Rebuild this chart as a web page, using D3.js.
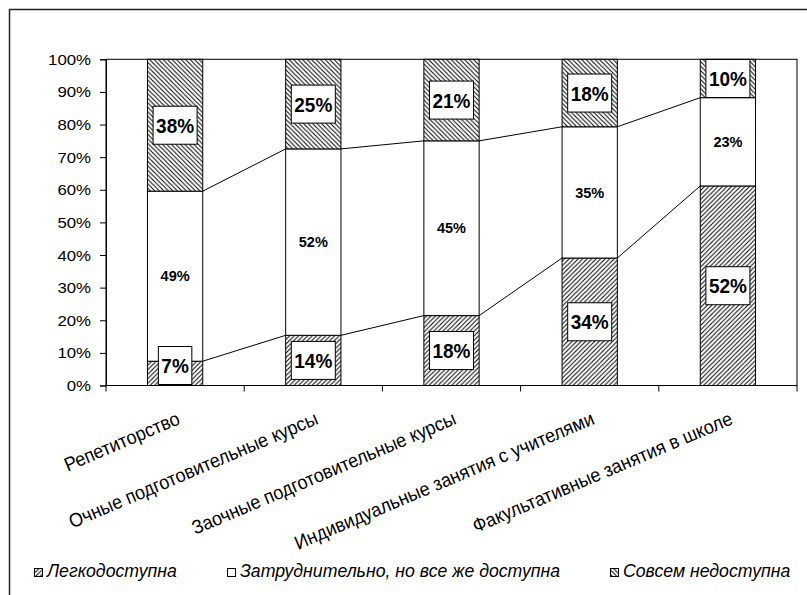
<!DOCTYPE html>
<html><head><meta charset="utf-8">
<script src="https://cdn.jsdelivr.net/npm/d3@7"></script>
<style>
html,body{margin:0;padding:0;background:#fff;}
svg{display:block;font-family:"Liberation Sans",Arial,sans-serif;}
</style></head>
<body>
<svg id="chart" width="807" height="595"></svg>
<script>
const categories = ["Репетиторство","Очные подготовительные курсы","Заочные подготовительные курсы","Индивидуальные занятия с учителями","Факультативные занятия в школе"];
const easyValues = [7,14,18,34,52];
const hardValues = [49,52,45,35,23];
const noneValues = [38,25,21,18,10];
const seriesNames = ["Легкодоступна","Затруднительно, но все же доступна","Совсем недоступна"];
const yTickValues = [0,0.1,0.2,0.3,0.4,0.5,0.6,0.7,0.8,0.9,1];

const svg = d3.select("#chart");
const W = 807, H = 595;
const plot = {left:106, right:797, top:59.3, bottom:385.5};

const rows = categories.map((c,i)=>({cat:c, s0:easyValues[i], s1:hardValues[i], s2:noneValues[i]}));
const keys = ["s0","s1","s2"];
const stacked = d3.stack().keys(keys).offset(d3.stackOffsetExpand)(rows);

const x = d3.scaleBand().domain(categories).range([plot.left, plot.right]).paddingInner(0.6).paddingOuter(0.3);
const y = d3.scaleLinear().domain([0,1]).range([plot.bottom, plot.top]);

// patterns
const P = 4.5;
const defs = svg.append("defs");
const pUp = defs.append("pattern").attr("id","pUp").attr("patternUnits","userSpaceOnUse").attr("width",P).attr("height",P);
pUp.append("rect").attr("width",P).attr("height",P).attr("fill","#fff");
pUp.append("path").attr("d",`M-1,1 L1,-1 M0,${P} L${P},0 M${P-1},${P+1} L${P+1},${P-1}`).attr("stroke","#000").attr("stroke-width",1);
const pDown = defs.append("pattern").attr("id","pDown").attr("patternUnits","userSpaceOnUse").attr("width",P).attr("height",P);
pDown.append("rect").attr("width",P).attr("height",P).attr("fill","#fff");
pDown.append("path").attr("d",`M-1,${P-1} L1,${P+1} M0,0 L${P},${P} M${P-1},-1 L${P+1},1`).attr("stroke","#000").attr("stroke-width",1);
const fills = ["url(#pUp)","#fff","url(#pDown)"];

// outer chart border
svg.append("rect").attr("x",9.5).attr("y",9.5).attr("width",W+20).attr("height",H+20)
  .attr("fill","none").attr("stroke","#222").attr("stroke-width",1.5);

// plot area border
svg.append("rect").attr("x",plot.left).attr("y",plot.top).attr("width",plot.right-plot.left).attr("height",plot.bottom-plot.top)
  .attr("fill","#fff").attr("stroke","#000").attr("stroke-width",1);

// bars
const bw = x.bandwidth();
stacked.forEach((layer,si)=>{
  svg.append("g").selectAll("rect").data(layer).join("rect")
    .attr("x",d=>x(d.data.cat)).attr("width",bw)
    .attr("y",d=>y(d[1])).attr("height",d=>y(d[0])-y(d[1]))
    .attr("fill",fills[si]).attr("stroke","#000").attr("stroke-width",1);
});

// series lines
[0,1].forEach(si=>{
  const layer = stacked[si];
  for(let i=0;i<layer.length-1;i++){
    svg.append("line")
      .attr("x1",x(layer[i].data.cat)+bw).attr("y1",y(layer[i][1]))
      .attr("x2",x(layer[i+1].data.cat)).attr("y2",y(layer[i+1][1]))
      .attr("stroke","#000").attr("stroke-width",1);
  }
});

// y axis
const yAxis = svg.append("g").attr("transform",`translate(${plot.left},0)`)
  .call(d3.axisLeft(y).tickValues(yTickValues).tickSize(6).tickFormat(d3.format(".0%")));
yAxis.select(".domain").attr("stroke","#000");
yAxis.selectAll(".tick line").attr("stroke","#000");
yAxis.selectAll(".tick text").attr("font-family","Liberation Sans, Arial, sans-serif").attr("font-size",14)
  .attr("fill","#000").attr("x",-15/1.2).attr("dy","0.36em").attr("transform","scale(1.2,1)");

// x axis baseline + ticks at category boundaries
svg.append("line").attr("x1",plot.left).attr("x2",plot.right).attr("y1",plot.bottom).attr("y2",plot.bottom).attr("stroke","#000");
const gap = x.step()-bw;
const bounds = categories.map(c=>x(c)-gap/2).concat([x(categories[categories.length-1])+bw+gap/2]);
svg.append("g").selectAll("line").data(bounds).join("line")
  .attr("x1",d=>d).attr("x2",d=>d).attr("y1",plot.bottom).attr("y2",plot.bottom+6).attr("stroke","#000");

// category labels
svg.append("g").selectAll("text").data(categories).join("text")
  .attr("transform",d=>`translate(${x(d)+bw/2+6},${plot.bottom+38}) rotate(-23) scale(1,1.08)`)
  .attr("text-anchor","end").attr("font-size",18).attr("fill","#000").text(d=>d);

// data labels
stacked.forEach((layer,si)=>{
  layer.forEach(d=>{
    const cx = x(d.data.cat)+bw/2;
    let cy = (y(d[0])+y(d[1]))/2;
    const vals = [easyValues,hardValues,noneValues][si];
    const idx = categories.indexOf(d.data.cat);
    const label = vals[idx]+"%";
    if(si===1){
      svg.append("text").attr("x",cx).attr("y",cy).attr("dy","0.36em").attr("text-anchor","middle")
        .attr("font-size",14.5).attr("font-weight","bold").attr("fill","#000").text(label);
    } else {
      const g = svg.append("g");
      const bh = 38;
      cy = Math.max(plot.top-2+bh/2, Math.min(plot.bottom-1-bh/2, cy));
      const rect = g.append("rect").attr("fill","#fff").attr("stroke","#000").attr("stroke-width",1);
      const t = g.append("text").attr("transform",`translate(${cx},${cy}) scale(1,1.1)`).attr("dy","0.36em")
        .attr("text-anchor","middle").attr("font-size",19).attr("font-weight","bold").attr("fill","#000").text(label);
      const w = t.node().getComputedTextLength()+6;
      rect.attr("x",cx-w/2).attr("y",cy-bh/2).attr("width",w).attr("height",bh);
    }
  });
});

// legend
const legendX = [34,227,610];
const lg = svg.append("g");
seriesNames.forEach((n,i)=>{
  lg.append("rect").attr("x",legendX[i]+0.5).attr("y",568.5).attr("width",8).attr("height",8)
    .attr("fill",fills[i]).attr("stroke","#000").attr("stroke-width",1);
  lg.append("text").attr("transform",`translate(${legendX[i]+13},577) scale(1,1.08)`).attr("font-size",17.7).attr("font-style","italic")
    .attr("fill","#000").text(n);
});
</script>
</body></html>
